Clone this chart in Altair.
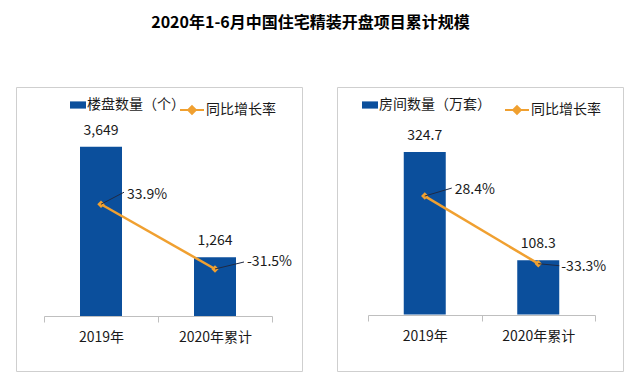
import altair as alt
import pandas as pd

# ---------------- data ----------------
title_text = "2020年1-6月中国住宅精装开盘项目累计规模"
categories = ["2019年", "2020年累计"]
rate_name = "同比增长率"

left_bar_name = "楼盘数量（个）"
left_values = [3649, 1264]
left_rates = [33.9, -31.5]

right_bar_name = "房间数量（万套）"
right_values = [324.7, 108.3]
right_rates = [28.4, -33.3]

# ---------------- style ----------------
FONT = "Noto Sans CJK SC"
BLUE = "#0b4f9c"
ORANGE = "#f0a030"
TEXT = "#1a1a1a"
RECT_PATH = "M-1,-0.45H1V0.45H-1Z"
LINE_DIAMOND = "M-1,0H1M0,-0.32L0.32,0L0,0.32L-0.32,0Z"
PANEL_W = 286
PANEL_H = 284


def panel(bar_name, values, rates, num_fmt, bar_domain, x_range, y_range,
          r_range, axis_offset, label_offs, leader_offs, bar_legend_xy,
          rate_legend_xy):
    df = pd.DataFrame({
        "cat": categories,
        "value": values,
        "rate": rates,
        "series": [bar_name] * len(categories),
        "rseries": [rate_name] * len(categories),
    })
    base = alt.Chart(df).transform_calculate(
        vlabel=f"format(datum.value, '{num_fmt}')",
        rlabel="(datum.rate < 0 ? '-' : '') + format(abs(datum.rate), '.1f') + '%'",
    )
    x = alt.X(
        "cat:N", sort=categories,
        scale=alt.Scale(range=x_range, paddingInner=0, paddingOuter=0),
        axis=alt.Axis(title=None, labelAngle=0, domainColor="#bfbfbf",
                      tickColor="#bfbfbf", tickSize=6, tickBand="extent",
                      labelFontSize=14, labelFont=FONT, labelColor=TEXT,
                      labelPadding=8, offset=axis_offset, grid=False),
    )
    yv = alt.Y("value:Q", scale=alt.Scale(domain=bar_domain, range=y_range), axis=None)
    yr = alt.Y("rate:Q", scale=alt.Scale(domain=[-50, 50], range=r_range), axis=None)

    bars = base.mark_bar(size=42).encode(
        x=x, y=yv,
        fill=alt.Fill("series:N", scale=alt.Scale(domain=[bar_name], range=[BLUE]),
                      legend=alt.Legend(title=None, orient="none",
                                        legendX=bar_legend_xy[0], legendY=bar_legend_xy[1],
                                        symbolType=RECT_PATH, symbolSize=256,
                                        symbolStrokeWidth=0,
                                        labelFont=FONT, labelFontSize=14,
                                        labelColor=TEXT, labelOffset=1)),
    )
    bar_text = base.mark_text(dy=-16, baseline="middle", fontSize=14, font=FONT,
                              color=TEXT).encode(x=x, y=yv, text="vlabel:N")
    bar_group = alt.layer(bars, bar_text)

    line = base.mark_line(strokeWidth=2.5).encode(
        x=x, y=yr,
        stroke=alt.Stroke("rseries:N", scale=alt.Scale(domain=[rate_name], range=[ORANGE]),
                          legend=alt.Legend(title=None, orient="none",
                                            legendX=rate_legend_xy[0], legendY=rate_legend_xy[1],
                                            symbolType=LINE_DIAMOND, symbolSize=576,
                                            symbolStrokeWidth=2, symbolFillColor=ORANGE,
                                            labelFont=FONT, labelFontSize=14,
                                            labelColor=TEXT, labelOffset=1)),
    )
    pts = base.mark_point(shape="diamond", filled=True, size=55, color=ORANGE,
                          opacity=1).encode(x=x, y=yr)
    layers = [line, pts]
    for cat, (dx, dy), (lx, ly) in zip(categories, label_offs, leader_offs):
        sub = base.transform_filter(alt.datum.cat == cat)
        layers.append(sub.mark_rule(color="#1f2a44", strokeWidth=1,
                                    x2Offset=lx, y2Offset=ly).encode(
            x=x, y=yr, x2=alt.X2("cat:N"), y2=alt.Y2("rate:Q")))
        layers.append(sub.mark_text(align="left", baseline="middle", dx=dx, dy=dy,
                                    fontSize=14, font=FONT, color=TEXT).encode(
            x=x, y=yr, text="rlabel:N"))
    line_group = alt.layer(*layers)

    return alt.layer(bar_group, line_group).resolve_scale(y="independent").properties(
        width=PANEL_W, height=PANEL_H)


left = panel(left_bar_name, left_values, left_rates, ",.0f", [0, 4000],
             [28, 256], [229, 43.4], [200.3, 101.3], -55,
             [(26, -9), (32, -7)], [(23, -12), (29, -7)],
             (54, 10), (163, 10))
right = panel(right_bar_name, right_values, right_rates, ".1f", [0, 400],
              [31, 258], [227.5, 27.2], [195.0, 85.4], -56,
              [(30, -6), (23, 3)], [(27, -8), (21, 2)],
              (25, 10), (167, 10))

chart = alt.hconcat(left, right, spacing=33).resolve_scale(
    fill="independent", stroke="independent", y="independent", x="independent"
).resolve_legend(fill="independent", stroke="independent").properties(
    title=alt.TitleParams(title_text, font=FONT, fontSize=16, fontWeight="bold",
                          color="#000000", anchor="middle", offset=56, dx=-9),
    padding={"left": 7, "top": 6, "right": 5, "bottom": 5},
).configure_view(stroke="#cfcfcf", strokeWidth=1)

chart.save("out.html", embed_options={"renderer": "svg", "actions": False})
